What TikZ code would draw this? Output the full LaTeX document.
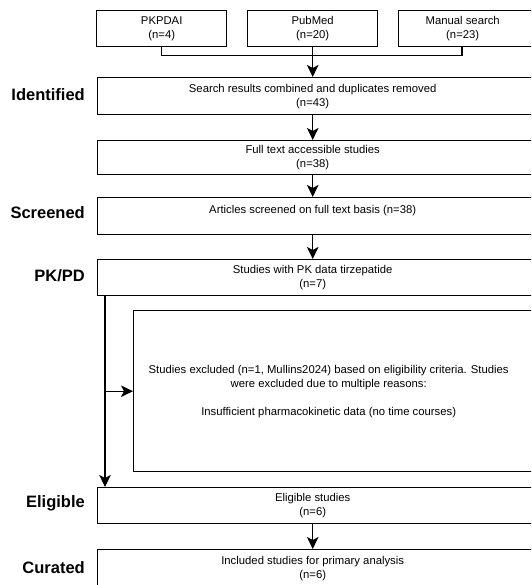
\documentclass[tikz,border=0pt]{standalone}
\usepackage{fontspec}
\setmainfont{Liberation Sans}
\usetikzlibrary{arrows.meta,calc}
\newcommand{\widetxt}[3]{\parbox{#1pt}{\centering #3}\hspace*{#2pt}}
\begin{document}
\begin{tikzpicture}[x=1pt,y=-1pt,
 box/.style={draw,line width=1.4pt,inner sep=0pt,anchor=north west,font=\fontsize{11.3}{14}\selectfont,align=center},
 lab/.style={anchor=east,inner sep=0pt,font=\fontsize{16.5}{20}\selectfont\bfseries},
 arr/.style={line width=1.4pt,-{Stealth[length=12pt,width=11.5pt,inset=3pt]}},
 ln/.style={line width=1.4pt}]
\useasboundingbox (0,0) rectangle (531,585);
\clip (0,0) rectangle (531,585);
\fill[white] (0,0) rectangle (531,585);
% source boxes
\node[box,minimum width=130pt,minimum height=36pt] (pk) at (96,10) {PKPDAI\\(n=4)};
\node[box,minimum width=130pt,minimum height=36pt] (pub) at (247,10) {PubMed\\(n=20)};
\node[box,minimum width=142pt,minimum height=36pt] (man) at (398,10) {\widetxt{128}{14}{Manual search\\(n=23)}};
% main boxes
\node[box,minimum width=443pt,minimum height=37pt] (srch) at (97,77) {\widetxt{430}{13}{Search results combined and duplicates removed\\(n=43)}};
\node[box,minimum width=443pt,minimum height=34pt] (full) at (97,140) {\widetxt{430}{13}{Full text accessible studies\\(n=38)}};
\node[box,minimum width=443pt,minimum height=37pt] (scr) at (97,197) {\widetxt{430}{13}{Articles screened on full text basis (n=38)\\\mbox{}}};
\node[box,minimum width=443pt,minimum height=36pt] (pkpd) at (97,259) {\widetxt{430}{13}{Studies with PK data tirzepatide\\(n=7)}};
\node[box,minimum width=407pt,minimum height=161pt] (excl) at (133,310) {\widetxt{390}{17}{Studies excluded (n=1, Mullins2024) based on eligibility criteria. Studies\\were excluded due to multiple reasons:\\[14pt]Insufficient pharmacokinetic data (no time courses)}};
\node[box,minimum width=443pt,minimum height=36pt] (elig) at (97,487) {\widetxt{430}{13}{Eligible studies\\(n=6)}};
\node[box,minimum width=443pt,minimum height=44pt] (cur) at (97,549) {\widetxt{430}{13}{Included studies for primary analysis\\(n=6)}\rule[-15pt]{0pt}{0pt}};
% stage labels
\node[lab] (lid) at (85,95) {Identified};
\node[lab] (lsc) at (85,213) {Screened};
\node[lab] (lpk) at (85,276) {PK/PD};
\node[lab] (lel) at (85,503) {Eligible};
\node[lab] (lcu) at (85,568) {Curated};
% coordinates
\coordinate (spine) at (pub.south);
\coordinate (manb) at ([xshift=64pt]man.south west);
\coordinate (jn) at ($(pub.south)+(0,8)$);
\coordinate (lx) at ([xshift=8pt]pkpd.south west);
% connectors
\draw[ln] (pk.south) |- (jn) -| (manb);
\draw[arr] (pub.south) -- (srch.north -| spine);
\draw[arr] (srch.south -| spine) -- (full.north -| spine);
\draw[arr] (full.south -| spine) -- (scr.north -| spine);
\draw[arr] (scr.south -| spine) -- (pkpd.north -| spine);
\draw[arr] (lx) -- (elig.north -| lx);
\draw[arr] (excl.west -| lx) -- (excl.west);
\draw[arr] (elig.south -| spine) -- (cur.north -| spine);
\end{tikzpicture}
\end{document}
